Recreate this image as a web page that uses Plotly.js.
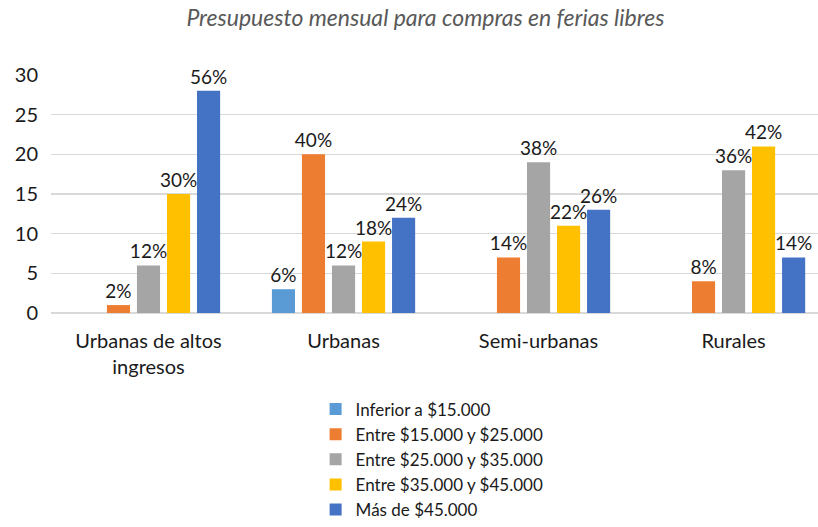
<!DOCTYPE html>
<html><head><meta charset="utf-8">
<script src="https://cdn.plot.ly/plotly-3.0.1.min.js"></script>
<style>html,body{margin:0;padding:0;background:#fff}</style>
</head><body>
<div id="chart" style="width:818px;height:527px"></div>
<script>
const categories = ["Urbanas de altos<br>ingresos", "Urbanas", "Semi-urbanas", "Rurales"];
const seriesNames = ["Inferior a $15.000", "Entre $15.000 y $25.000", "Entre $25.000 y $35.000", "Entre $35.000 y $45.000", "Más de $45.000"];
const inferior15 = [null, 3, null, null];
const entre15_25 = [1, 20, 7, 4];
const entre25_35 = [6, 6, 19, 18];
const entre35_45 = [15, 9, 11, 21];
const mas45 = [28, 12, 13, 7];
const labelsInferior15 = ["", "6%", "", ""];
const labels15_25 = ["2%", "40%", "14%", "8%"];
const labels25_35 = ["12%", "12%", "38%", "36%"];
const labels35_45 = ["30%", "18%", "22%", "42%"];
const labelsMas45 = ["56%", "24%", "26%", "14%"];
const yTicks = [0, 5, 10, 15, 20, 25, 30];

const colors = ["#5B9BD5", "#ED7D31", "#A5A5A5", "#FFC000", "#4472C4"];
const values = [inferior15, entre15_25, entre25_35, entre35_45, mas45];
const labels = [labelsInferior15, labels15_25, labels25_35, labels35_45, labelsMas45];
const FONT = "Lato, 'Open Sans', sans-serif";

const data = values.map((v, i) => ({
  type: "bar",
  name: seriesNames[i],
  x: categories,
  y: v,
  text: labels[i],
  textposition: "outside",
  constraintext: "none",
  cliponaxis: false,
  textfont: {family: FONT, size: 19, color: "#1a1a1a"},
  marker: {color: colors[i]},
  hoverinfo: "none"
}));

const layout = {
  width: 818, height: 527,
  margin: {l: 51, r: 0, t: 75, b: 214, autoexpand: false},
  paper_bgcolor: "#fff", plot_bgcolor: "#fff",
  barmode: "group", bargap: 0.23, bargroupgap: 0.23,
  title: {text: "<i>Presupuesto mensual para compras en ferias libres</i>",
    font: {family: FONT, size: 23, color: "#595959"},
    x: 0.52, xanchor: "center", y: 0.965, yanchor: "middle"},
  xaxis: {range: [-0.5, 3.433], showgrid: false, showline: false, ticks: "",
    ticklabelstandoff: 14, tickangle: 0, automargin: false,
    tickfont: {family: FONT, size: 20, color: "#1a1a1a"}, fixedrange: true},
  yaxis: {range: [0, 30], tickvals: yTicks, showgrid: true, gridcolor: "#d9d9d9", gridwidth: 1.5,
    zeroline: true, zerolinecolor: "#d9d9d9", zerolinewidth: 1.5, showline: false, ticks: "",
    ticklabelstandoff: 12, automargin: false,
    tickfont: {family: FONT, size: 20, color: "#1a1a1a"}, fixedrange: true},
  showlegend: true,
  legend: {orientation: "v", x: 0.345, xanchor: "left", y: -0.33, yanchor: "top",
    font: {family: FONT, size: 17, color: "#1a1a1a"}, tracegroupgap: 0,
    itemwidth: 30, bgcolor: "rgba(0,0,0,0)"}
};

Plotly.newPlot("chart", data, layout, {displayModeBar: false, staticPlot: true});
</script>
</body></html>
